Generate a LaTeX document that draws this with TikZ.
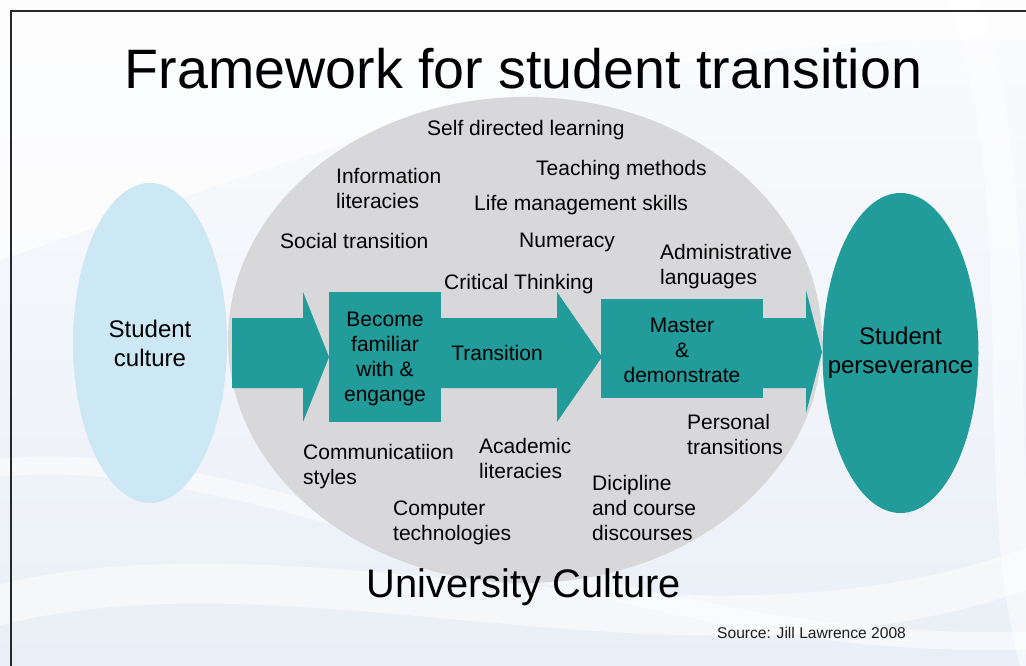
\documentclass[tikz,border=0pt]{standalone}
\usepackage{fontspec}
\setmainfont{Liberation Sans}
\usetikzlibrary{shapes.geometric}

\definecolor{flowteal}{RGB}{33,156,155}
\definecolor{unigrey}{RGB}{216,216,218}
\definecolor{stublue}{RGB}{204,232,245}
\definecolor{slidetop}{RGB}{250,251,253}
\definecolor{slidebot}{RGB}{234,239,247}
\definecolor{framegrey}{RGB}{40,40,40}

\tikzset{
  label/.style={font=\fontsize{21}{25}\selectfont, inner sep=0pt,
    anchor=north west, align=left, text=black},
  boxtext/.style={font=\fontsize{21}{25}\selectfont, align=center, text=black},
  stagebox/.style={rectangle, fill=flowteal, inner sep=0pt},
  oval/.style={ellipse, inner sep=0pt},
  ovaltext/.style={align=center, font=\fontsize{24}{29}\selectfont, text=black},
  flow/.style={fill=flowteal, draw=none},
  swoosh/.style={white, opacity=0.5, line cap=round}
}

\begin{document}
\begin{tikzpicture}[x=1pt, y=-1pt]
  \useasboundingbox (0,0) rectangle (1026,666);

  % slide background
  \shade[top color=slidetop, bottom color=slidebot] (0,0) rectangle (1026,666);
  \draw[swoosh, line width=40pt] (-20,610) .. controls (300,520) and (700,700) .. (1050,560);
  \draw[swoosh, line width=18pt] (-20,470) .. controls (250,430) and (600,660) .. (1050,640);
  \draw[swoosh, line width=30pt] (960,-10) .. controls (1040,200) and (980,500) .. (1040,680);
  \fill[white, opacity=0.7] (0,0) -- (1026,0) -- (1026,40) .. controls (600,30) and (300,160) .. (0,260) -- cycle;

  % frame
  \draw[framegrey, line width=2.5pt] (11,666) -- (11,11) -- (1026,11);

  % title
  \node[font=\fontsize{55.6}{60}\selectfont, anchor=base, inner sep=0pt]
    (title) at (523.5,89) {Framework for student transition};

  % university culture oval
  \node[oval, fill=unigrey, minimum width=594pt, minimum height=486pt]
    (uni) at (525,340) {};

  % student culture oval
  \node[oval, fill=stublue, minimum width=154pt, minimum height=320pt]
    (stu) at (150,343) {};
  \node[ovaltext] (stutext) at (stu.center) {Student\\culture};

  % flow arrows
  \fill[flow] (232,318) -- (303,318) -- (303,292) -- (329,357)
              -- (303,422) -- (303,388) -- (232,388) -- cycle;
  \fill[flow] (435,318) -- (557,318) -- (557,292) -- (602,357)
              -- (557,422) -- (557,388) -- (435,388) -- cycle;
  \fill[flow] (755,318) -- (806,318) -- (806,290) -- (822,352)
              -- (806,413) -- (806,388) -- (755,388) -- cycle;

  % stage boxes
  \node[stagebox, minimum width=112pt, minimum height=130pt] (fam) at (385,357) {};
  \node[boxtext] (famtext) at ([yshift=-1.5pt]fam.center) {Become\\familiar\\with \&\\engange};
  \node[stagebox, minimum width=162pt, minimum height=99pt] (mas) at (682,348.5) {};
  \node[boxtext] (mastext) at ([yshift=-1.5pt]mas.center) {Master\\\&\\demonstrate};
  \node[boxtext] (trans) at (497,353) {Transition};

  % student perseverance oval
  \node[oval, fill=flowteal, minimum width=156pt, minimum height=320pt]
    (pers) at (900.5,353) {};
  \node[ovaltext] (perstext) at (pers.center) {Student\\perseverance};

  % factors within the university culture
  \node[label] (sdl)  at (427,120.5) {Self directed learning};
  \node[label] (info) at (336,168.3) {Information\\literacies};
  \node[label] (teach) at (536,160.4) {Teaching methods};
  \node[label] (life) at (474,195.4) {Life management skills};
  \node[label] (soc)  at (280,233.4) {Social transition};
  \node[label] (num)  at (519,232.4) {Numeracy};
  \node[label] (adm)  at (660,244.4) {Administrative\\languages};
  \node[label] (crit) at (444,274.4) {Critical Thinking};
  \node[label] (perstr) at (687,414.4) {Personal\\transitions};
  \node[label] (comm) at (303,444.4) {Communicatiion\\styles};
  \node[label] (acad) at (479,438.4) {Academic\\literacies};
  \node[label] (disc) at (592,475.4) {Dicipline\\and course\\discourses};
  \node[label] (comp) at (393,500.4) {Computer\\technologies};

  \node[font=\fontsize{39.8}{44}\selectfont, anchor=base, inner sep=0pt]
    (unilabel) at (524,597) {University Culture};

  % source line
  \node[font=\fontsize{15.6}{18}\selectfont, anchor=base west, inner sep=0pt, text={rgb,255:red,30;green,30;blue,30}]
    (src) at (717,638.5) {Source: Jill Lawrence 2008};
\end{tikzpicture}
\end{document}
